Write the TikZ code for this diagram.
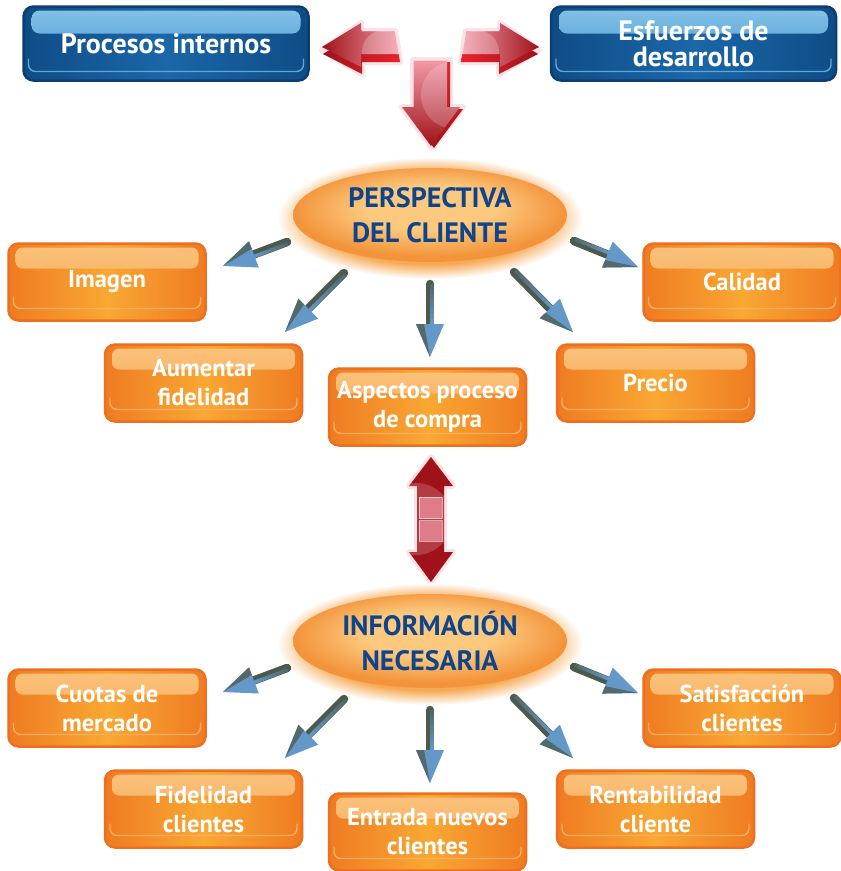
\documentclass[tikz,border=0pt]{standalone}
\usepackage{fontspec}
\setmainfont{PT Sans}
\usetikzlibrary{calc,shapes.geometric}

\definecolor{orborder}{HTML}{EC7020}
\definecolor{oredge}{HTML}{EF7B22}
\definecolor{ormid}{HTML}{F9A833}
\definecolor{orglosstop}{HTML}{FAC27C}
\definecolor{orglossbot}{HTML}{F7A64E}
\definecolor{orbevel}{HTML}{F8AE5E}
\definecolor{blborder}{HTML}{0C3E72}
\definecolor{bledge}{HTML}{0F4C86}
\definecolor{blmid}{HTML}{1B67A8}
\definecolor{blglosstop}{HTML}{86C4E8}
\definecolor{blglossbot}{HTML}{3E8DCB}
\definecolor{blbevel}{HTML}{5FA6DA}
\definecolor{elltext}{HTML}{10448A}
\definecolor{ellin}{HTML}{FCC97E}
\definecolor{ellout}{HTML}{F3933A}
\definecolor{glowc}{HTML}{F7AA55}
\definecolor{arrdark}{HTML}{4C5A4E}
\definecolor{arrblue}{HTML}{6498C8}
\definecolor{reddark}{HTML}{A0121A}
\definecolor{redmid}{HTML}{E8232B}
\definecolor{redpink}{HTML}{F29AA8}
\definecolor{redglow}{HTML}{F0606E}

\pgfdeclareradialshading{ellcore}{\pgfpoint{0bp}{5bp}}{color(0bp)=(ellin); color(12bp)=(ellin); color(25bp)=(ellout); color(50bp)=(ellout)}
\pgfdeclareradialshading{ellglow}{\pgfpoint{0bp}{0bp}}{color(0bp)=(glowc); color(19bp)=(glowc); color(25bp)=(white); color(50bp)=(white)}

\tikzset{
  gbox/.style={rectangle, rounded corners=10pt, line width=2.5pt, align=center, text=white, inner sep=0pt},
  orbox/.style={gbox, draw=orborder, left color=oredge, right color=oredge, middle color=ormid,
    minimum width=197pt, minimum height=77pt, font=\bfseries\fontsize{24.5}{29}\selectfont,
    path picture={
      \shade[top color=orglosstop, bottom color=orglossbot, rounded corners=7pt]
        ([xshift=7pt,yshift=-4pt]path picture bounding box.north west) rectangle
        ([xshift=-7pt,yshift=-25pt]path picture bounding box.north east);
      \draw[orbevel, line width=1.4pt, rounded corners=7pt]
        ([xshift=5pt,yshift=24pt]path picture bounding box.south west) --
        ([xshift=5pt,yshift=12pt]path picture bounding box.south west) --
        ([xshift=-5pt,yshift=12pt]path picture bounding box.south east) --
        ([xshift=-5pt,yshift=24pt]path picture bounding box.south east);
    }},
  blbox/.style={gbox, draw=blborder, left color=bledge, right color=bledge, middle color=blmid,
    minimum width=285pt, minimum height=74pt, font=\bfseries\fontsize{28}{26}\selectfont,
    path picture={
      \shade[top color=blglosstop, bottom color=blglossbot, rounded corners=8pt]
        ([xshift=8pt,yshift=-4pt]path picture bounding box.north west) rectangle
        ([xshift=-8pt,yshift=-27pt]path picture bounding box.north east);
      \draw[blbevel, line width=1.4pt, rounded corners=7pt]
        ([xshift=5pt,yshift=22pt]path picture bounding box.south west) --
        ([xshift=5pt,yshift=9pt]path picture bounding box.south west) --
        ([xshift=-5pt,yshift=9pt]path picture bounding box.south east) --
        ([xshift=-5pt,yshift=22pt]path picture bounding box.south east);
    }},
  ellnode/.style={ellipse, shade, shading=ellcore, minimum width=274pt, minimum height=94pt,
    inner sep=0pt, align=center, text=elltext, font=\bfseries\fontsize{28}{35}\selectfont},
  redglowst/.style={draw=redglow, line width=6pt, opacity=0.18, line join=round},
  redhl/.style={draw=white, opacity=0.55, line width=0.7pt, line join=round},
}

\newcommand\bluearrow[2]{%
  \coordinate (#2h) at ($(#2)!33pt!(#1)$);
  \draw[arrdark, line width=8.5pt, line cap=round] (#1) -- (#2h);
  \foreach \k [evaluate=\k as \sta using \k/8, evaluate=\k as \stb using (\k+1)/8+0.02,
               evaluate=\k as \spc using int(25+\k*10)] in {0,...,7}
    \draw[arrblue!\spc!arrdark, line width=3.5pt]
      ($($(#1)!2pt!90:(#2)$)!\sta!($(#2h)!2pt!-90:(#1)$)$) --
      ($($(#1)!2pt!90:(#2)$)!\stb!($(#2h)!2pt!-90:(#1)$)$);
  \fill[arrblue] (#2) -- ($(#2h)!14pt!90:(#2)$) -- ($(#2h)!14pt!-90:(#2)$) -- cycle;
  \fill[arrdark!75!arrblue] (#2) -- ($(#2h)!14pt!-90:(#2)$) -- ($(#2h)!6pt!-90:(#2)$) -- cycle;
}

\begin{document}
\begin{tikzpicture}[x=1pt,y=-1pt]
\useasboundingbox[fill=white] (0,0) rectangle (841,871);

% ---------- top blue boxes ----------
\node[blbox] (proc) at (166,43.5) {Procesos internos};
\node[blbox] (esf) at (693.5,43.5) {Esfuerzos de\\desarrollo};

% ---------- red arrows (top) ----------
% left arrow
\draw[redglowst] (322,50) -- (361,23) -- (361,31) -- (395,31) -- (400,62) -- (362,62) -- (362,74) -- cycle;
\shade[left color=reddark, right color=redmid] (323,54) -- (362,30) -- (362,38) -- (396,38) -- (400,62) -- (362,62) -- (362,74) -- cycle;
\shade[left color=reddark, middle color=redmid, right color=redpink] (322,47) -- (361,23) -- (361,31) -- (395,31) -- (399,54) -- (361,54) -- (361,67) -- cycle;
\begin{scope}
  \clip (322,47) -- (361,23) -- (361,31) -- (395,31) -- (399,54) -- (361,54) -- (361,67) -- cycle;
  \fill[white, opacity=0.22] (384,52) circle (22pt);
\end{scope}
\draw[redhl] (361,31) -- (395,31) -- (399,54);
% right arrow
\draw[redglowst] (539,50) -- (500,23) -- (500,31) -- (466,31) -- (461,62) -- (499,62) -- (499,74) -- cycle;
\shade[left color=redmid, right color=reddark] (538,54) -- (499,30) -- (499,38) -- (465,38) -- (461,62) -- (499,62) -- (499,74) -- cycle;
\shade[left color=redpink, middle color=redmid, right color=reddark] (539,47) -- (500,23) -- (500,31) -- (466,31) -- (462,54) -- (500,54) -- (500,67) -- cycle;
\begin{scope}
  \clip (539,47) -- (500,23) -- (500,31) -- (466,31) -- (462,54) -- (500,54) -- (500,67) -- cycle;
  \fill[white, opacity=0.22] (477,52) circle (22pt);
\end{scope}
\draw[redhl] (500,31) -- (466,31) -- (462,54);
% down arrow
\draw[redglowst] (413,60) -- (450,60) -- (450,107) -- (463,107) -- (432,148) -- (402,107) -- (413,107) -- cycle;
\shade[top color=redmid, bottom color=reddark] (416,62) -- (450,62) -- (450,109) -- (463,109) -- (434,148) -- (405,109) -- (416,109) -- cycle;
\shade[top color=redpink, middle color=redmid, bottom color=reddark] (413,60) -- (447,60) -- (447,107) -- (460,107) -- (431,146) -- (402,107) -- (413,107) -- cycle;
\begin{scope}
  \clip (413,60) -- (447,60) -- (447,107) -- (460,107) -- (431,146) -- (402,107) -- (413,107) -- cycle;
  \fill[white, opacity=0.18] (455,95) circle (34pt);
\end{scope}
\draw[redhl] (413,107) -- (413,60) -- (447,60);

% ---------- ellipse 1 ----------
\coordinate (c1) at (430,215);
\shade[shading=ellglow] ([yshift=-3pt]c1) ellipse [x radius=153pt, y radius=61pt];
\node[ellnode] (pc) at (c1) {PERSPECTIVA\\DEL CLIENTE};

% ---------- orange boxes top ----------
\node[orbox] (imagen) at (107,282) {Imagen};
\node[orbox] (calidad) at (742,282) {Calidad};
\node[orbox] (aumentar) at (203.5,383) {Aumentar\\fidelidad};
\node[orbox] (aspectos) at (427.5,407) {Aspectos proceso\\de compra};
\node[orbox] (precio) at (655.5,383) {Precio};

% ---------- blue arrows top ----------
\coordinate (t1) at (287,242); \coordinate (h1) at (223,266);
\coordinate (t2) at (344,273); \coordinate (h2) at (285,332);
\coordinate (t3) at (430,284); \coordinate (h3) at (430,357);
\coordinate (t4) at (514,272); \coordinate (h4) at (573,332);
\coordinate (t5) at (574,241); \coordinate (h5) at (638,267);
\bluearrow{t1}{h1}
\bluearrow{t2}{h2}
\bluearrow{t3}{h3}
\bluearrow{t4}{h4}
\bluearrow{t5}{h5}

% ---------- double red arrow ----------
\draw[redglowst] (431,457) -- (453,486) -- (444,486) -- (444,552) -- (453,552) -- (431,582) -- (409,552) -- (417,552) -- (417,486) -- (409,486) -- cycle;
\shade[left color=reddark, middle color=redmid, right color=reddark] (431,457) -- (453,486) -- (444,486) -- (444,552) -- (453,552) -- (431,582) -- (409,552) -- (417,552) -- (417,486) -- (409,486) -- cycle;
\begin{scope}
  \clip (431,457) -- (453,486) -- (444,486) -- (444,552) -- (453,552) -- (431,582) -- (409,552) -- (417,552) -- (417,486) -- (409,486) -- cycle;
  \fill[white, opacity=0.18] (416,519) circle (36pt);
\end{scope}
\fill[redpink, opacity=0.7] (419,497) rectangle (442,518.5);
\fill[redpink, opacity=0.7] (419,520.5) rectangle (442,541);
\draw[redhl] (419,497) rectangle (442,518.5);
\draw[redhl] (419,520.5) rectangle (442,541);

% ---------- ellipse 2 ----------
\coordinate (c2) at (430,641);
\shade[shading=ellglow] ([yshift=-3pt]c2) ellipse [x radius=153pt, y radius=61pt];
\node[ellnode] (info) at (c2) {INFORMACIÓN\\NECESARIA};

% ---------- orange boxes bottom ----------
\node[orbox] (cuotas) at (107,708) {Cuotas de\\mercado};
\node[orbox] (satis) at (742,708) {Satisfacción\\clientes};
\node[orbox] (fidel) at (203.5,809) {Fidelidad\\clientes};
\node[orbox] (entrada) at (427.5,832) {Entrada nuevos\\clientes};
\node[orbox] (rentab) at (655.5,809) {Rentabilidad\\cliente};

% ---------- blue arrows bottom ----------
\coordinate (t6) at (287,668); \coordinate (h6) at (223,692);
\coordinate (t7) at (344,699); \coordinate (h7) at (285,758);
\coordinate (t8) at (430,710); \coordinate (h8) at (430,783);
\coordinate (t9) at (514,698); \coordinate (h9) at (573,758);
\coordinate (t10) at (574,667); \coordinate (h10) at (638,693);
\bluearrow{t6}{h6}
\bluearrow{t7}{h7}
\bluearrow{t8}{h8}
\bluearrow{t9}{h9}
\bluearrow{t10}{h10}
\end{tikzpicture}
\end{document}
